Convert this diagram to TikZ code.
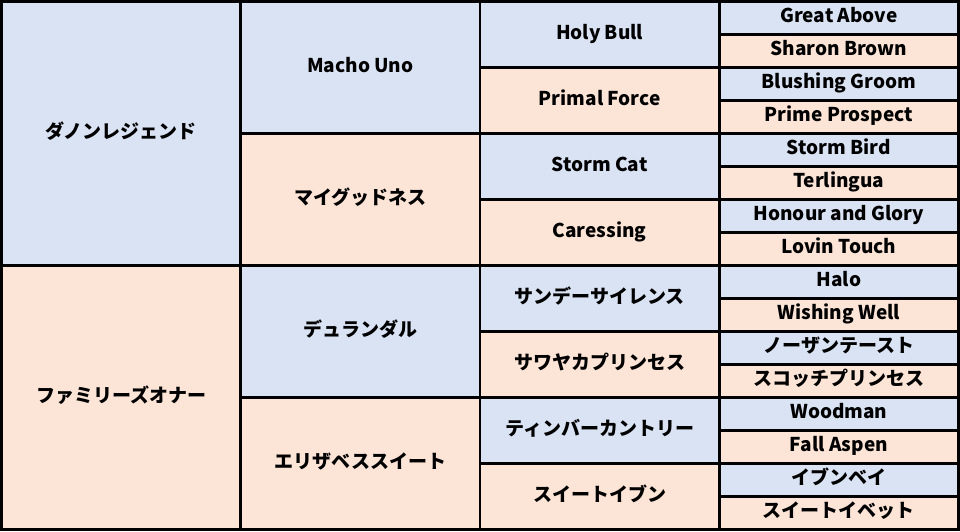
\documentclass[tikz,border=0pt]{standalone}
\usepackage{fontspec}
\setmainfont{Noto Sans CJK JP}
\usepackage{tikz}
\usetikzlibrary{positioning}

\definecolor{sirecol}{HTML}{DAE3F3}
\definecolor{damcol}{HTML}{FCE4D6}

\tikzset{
  cell/.style={draw=black, line width=2.6pt, anchor=north west, inner sep=0pt,
    outer sep=0pt, text height=13pt, text depth=4pt,
    minimum width=239.25pt, font=\fontsize{19}{20}\selectfont\bfseries},
  sirebox/.style={cell, fill=sirecol},
  dambox/.style={cell, fill=damcol},
  g1/.style={minimum height=264pt},
  g2/.style={minimum height=132pt},
  g3/.style={minimum height=66pt},
  g4/.style={minimum height=33pt}
}

\begin{document}
\begin{tikzpicture}[x=1pt,y=-1pt]
\useasboundingbox (0,0) rectangle (960,531);

% 1st generation
\node[sirebox,g1] (s) at (1.5,1.5) {ダノンレジェンド};
\node[dambox,g1] (d) at (1.5,265.5) {ファミリーズオナー};

% 2nd generation
\node[sirebox,g2] (ss) at (s.north east) {Macho Uno};
\node[dambox,g2] (sd) at (ss.south west) {マイグッドネス};
\node[sirebox,g2] (ds) at (d.north east) {デュランダル};
\node[dambox,g2] (dd) at (ds.south west) {エリザベススイート};

% 3rd generation
\node[sirebox,g3] (sss) at (ss.north east) {Holy Bull};
\node[dambox,g3] (ssd) at (sss.south west) {Primal Force};
\node[sirebox,g3] (sds) at (sd.north east) {Storm Cat};
\node[dambox,g3] (sdd) at (sds.south west) {Caressing};
\node[sirebox,g3] (dss) at (ds.north east) {サンデーサイレンス};
\node[dambox,g3] (dsd) at (dss.south west) {サワヤカプリンセス};
\node[sirebox,g3] (dds) at (dd.north east) {ティンバーカントリー};
\node[dambox,g3] (ddd) at (dds.south west) {スイートイブン};

% 4th generation
\node[sirebox,g4] (ssss) at (sss.north east) {Great Above};
\node[dambox,g4] (sssd) at (ssss.south west) {Sharon Brown};
\node[sirebox,g4] (ssds) at (ssd.north east) {Blushing Groom};
\node[dambox,g4] (ssdd) at (ssds.south west) {Prime Prospect};
\node[sirebox,g4] (sdss) at (sds.north east) {Storm Bird};
\node[dambox,g4] (sdsd) at (sdss.south west) {Terlingua};
\node[sirebox,g4] (sdds) at (sdd.north east) {Honour and Glory};
\node[dambox,g4] (sddd) at (sdds.south west) {Lovin Touch};
\node[sirebox,g4] (dsss) at (dss.north east) {Halo};
\node[dambox,g4] (dssd) at (dsss.south west) {Wishing Well};
\node[sirebox,g4] (dsds) at (dsd.north east) {ノーザンテースト};
\node[dambox,g4] (dsdd) at (dsds.south west) {スコッチプリンセス};
\node[sirebox,g4] (ddss) at (dds.north east) {Woodman};
\node[dambox,g4] (ddsd) at (ddss.south west) {Fall Aspen};
\node[sirebox,g4] (ddds) at (ddd.north east) {イブンベイ};
\node[dambox,g4] (dddd) at (ddds.south west) {スイートイベット};

\end{tikzpicture}
\end{document}
